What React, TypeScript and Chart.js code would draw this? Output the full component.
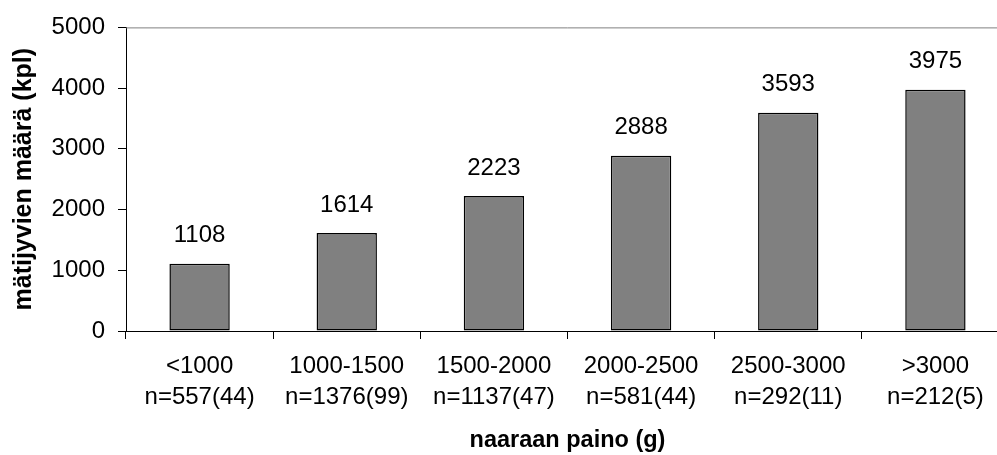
import React, { useEffect, useRef } from "react";
import { Chart, registerables } from "chart.js";

Chart.register(...registerables);

const categories = ["<1000", "1000-1500", "1500-2000", "2000-2500", "2500-3000", ">3000"];
const sampleSizes = ["n=557(44)", "n=1376(99)", "n=1137(47)", "n=581(44)", "n=292(11)", "n=212(5)"];
const eggCounts = [1108, 1614, 2223, 2888, 3593, 3975];
const yMin = 0;
const yMax = 5000;
const yStep = 1000;
const xTitle = "naaraan paino (g)";
const yTitle = "mätijyvien määrä (kpl)";

const FONT = "'Liberation Sans', Arial, Helvetica, sans-serif";
const TICK_SIZE = 24;

const valueLabels = {
  id: "valueLabels",
  afterDatasetsDraw(chart: any) {
    const ctx = chart.ctx;
    const meta = chart.getDatasetMeta(0);
    const data = chart.data.datasets[0].data;
    ctx.save();
    ctx.font = `${TICK_SIZE}px ${FONT}`;
    ctx.fillStyle = "#000";
    ctx.textAlign = "center";
    ctx.textBaseline = "middle";
    meta.data.forEach((bar: any, i: number) => {
      ctx.fillText(String(data[i]), bar.x, bar.y - 28);
    });
    ctx.restore();
  },
};

const topLine = {
  id: "topLine",
  afterDraw(chart: any) {
    const { ctx, chartArea } = chart;
    ctx.save();
    ctx.strokeStyle = "#808080";
    ctx.lineWidth = 1;
    ctx.beginPath();
    ctx.moveTo(chartArea.left, chartArea.top + 0.5);
    ctx.lineTo(chartArea.right, chartArea.top + 0.5);
    ctx.stroke();
    ctx.restore();
  },
};

export default function App() {
  const ref = useRef<HTMLCanvasElement>(null);

  useEffect(() => {
    if (!ref.current) return;
    const chart = new Chart(ref.current, {
      type: "bar",
      data: {
        labels: categories.map((c, i) => [c, sampleSizes[i]]),
        datasets: [
          {
            data: eggCounts,
            backgroundColor: "#808080",
            borderColor: "#000000",
            borderWidth: 1.5,
            borderSkipped: false,
            categoryPercentage: 1,
            barPercentage: 0.41,
          },
        ],
      },
      options: {
        animation: false,
        responsive: false,
        maintainAspectRatio: false,
        layout: { padding: { top: 25, left: 0, right: 0, bottom: 0 } },
        plugins: {
          legend: { display: false },
          tooltip: { enabled: false },
        },
        scales: {
          x: {
            afterFit: (s: any) => {
              s.height = 124;
            },
            grid: {
              offset: true,
              drawOnChartArea: false,
              drawTicks: true,
              tickLength: 8,
              color: "#000",
            },
            border: { color: "#000", width: 1 },
            ticks: {
              color: "#000",
              padding: 12,
              maxRotation: 0,
              autoSkip: false,
              font: { family: FONT, size: TICK_SIZE, lineHeight: 31 / TICK_SIZE },
            },
            title: {
              display: true,
              text: xTitle,
              color: "#000",
              padding: { top: 0, bottom: 0 },
              font: { family: FONT, size: 23.5, weight: "bold", lineHeight: 1.2 },
            },
          },
          y: {
            min: yMin,
            max: yMax,
            afterFit: (s: any) => {
              s.width = 126;
            },
            grid: {
              drawOnChartArea: false,
              drawTicks: true,
              tickLength: 8,
              color: "#000",
            },
            border: { color: "#000", width: 1 },
            ticks: {
              stepSize: yStep,
              color: "#000",
              padding: 13,
              callback: (v: any) => String(v),
              font: { family: FONT, size: TICK_SIZE },
            },
            title: {
              display: true,
              text: yTitle,
              color: "#000",
              padding: { top: 9, bottom: 0 },
              font: { family: FONT, size: 25, weight: "bold", lineHeight: 1.2 },
            },
          },
        },
      },
      plugins: [valueLabels, topLine],
    });
    return () => chart.destroy();
  }, []);

  return (
    <div
      style={{
        position: "fixed",
        left: 0,
        top: 0,
        width: 997,
        height: 455,
        overflow: "hidden",
        background: "#fff",
      }}
    >
      <canvas ref={ref} width={1009} height={455} style={{ display: "block", width: 1009, height: 455 }} />
    </div>
  );
}
